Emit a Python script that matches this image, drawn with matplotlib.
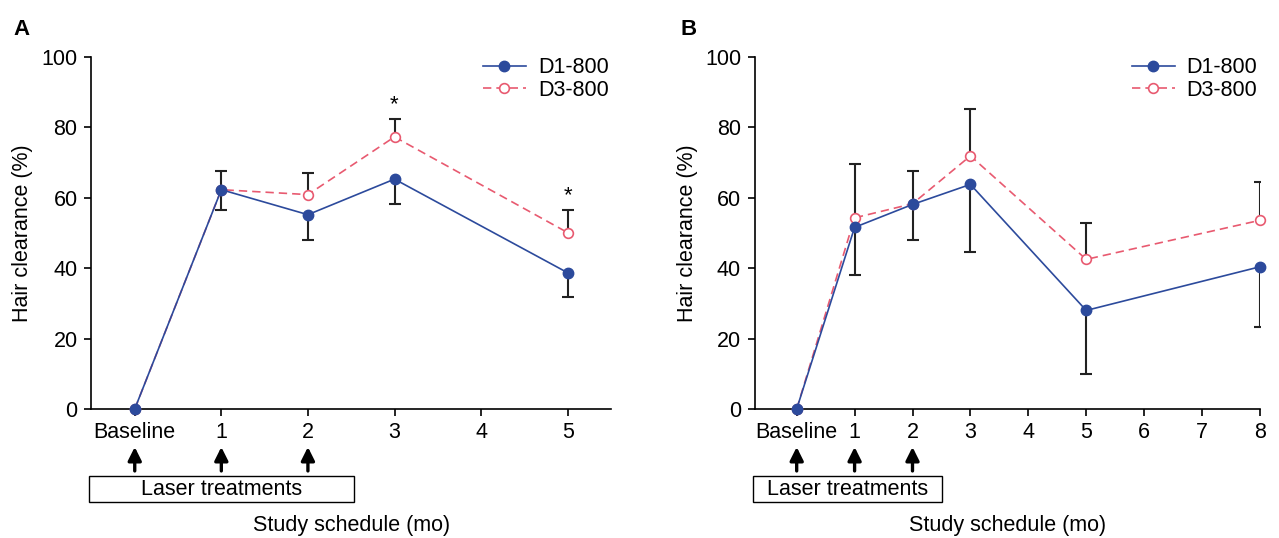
import matplotlib.pyplot as plt
from matplotlib.patches import Rectangle
import numpy as np

plt.rcParams['font.family'] = ['Liberation Sans', 'DejaVu Sans']
plt.rcParams['font.size'] = 15.5

# Panel A
a_x = [0, 1, 2, 3, 5]
a_ticks = [0, 1, 2, 3, 4, 5]
a_ticklabels = ['Baseline', '1', '2', '3', '4', '5']
a_d1 = [0, 62.3, 55.2, 65.3, 38.7]
a_d1_err = [0, 5.7, 7.2, 7.0, 6.8]     # drawn downward
a_d3 = [0, 62.3, 60.9, 77.3, 50.1]
a_d3_err = [0, 5.2, 6.2, 5.2, 6.5]     # drawn upward
a_star_x = [3, 5]
a_star_y = [86.5, 60.5]

# Panel B
b_x = [0, 1, 2, 3, 5, 8]
b_ticks = [0, 1, 2, 3, 4, 5, 6, 7, 8]
b_ticklabels = ['Baseline', '1', '2', '3', '4', '5', '6', '7', '8']
b_d1 = [0, 51.6, 58.1, 63.8, 28.0, 40.4]
b_d1_err = [0, 13.6, 10.1, 19.2, 18.2, 17.0]
b_d3 = [0, 54.3, 58.3, 71.9, 42.5, 53.6]
b_d3_err = [0, 15.2, 9.2, 13.3, 10.4, 10.8]

treat_x = [0, 1, 2]

blue = '#2c4a9c'
red = '#e85a70'

fig = plt.figure(figsize=(12.79, 5.38), dpi=100)
axA = fig.add_axes([0.0715, 0.2398, 0.4062, 0.6543])
axB = fig.add_axes([0.5903, 0.2398, 0.3948, 0.6543])


def draw_errs(ax, x, y, err, sign):
    x = np.array(x)
    y = np.array(y)
    err = np.array(err)
    m = err > 0
    ends = y[m] + sign * err[m]
    ax.vlines(x[m], y[m], ends, color='#222222', lw=1.5, zorder=2)
    ax.plot(x[m], ends, linestyle='none', marker='_', markersize=9,
            markeredgewidth=1.5, color='#222222', zorder=2)


def panel(ax, x, d1, d1e, d3, d3e, ticks, ticklabels, xlim, box, letter):
    draw_errs(ax, x, d1, d1e, -1)
    draw_errs(ax, x, d3, d3e, +1)
    ax.plot(x, d3, color=red, lw=1.2, ls=(0, (5, 3)), marker='o', ms=7,
            mfc='white', mec=red, mew=1.2, label='D3-800', zorder=3, clip_on=False)
    ax.plot(x, d1, color=blue, lw=1.2, marker='o', ms=7.5, mfc=blue, mec=blue,
            label='D1-800', zorder=4, clip_on=False)
    ax.set_xlim(*xlim)
    ax.set_ylim(0, 100)
    ax.set_yticks([0, 20, 40, 60, 80, 100])
    ax.set_xticks(ticks)
    ax.set_xticklabels(ticklabels)
    for s in ['top', 'right']:
        ax.spines[s].set_visible(False)
    for s in ['left', 'bottom']:
        ax.spines[s].set_linewidth(1.2)
    ax.tick_params(direction='out', length=5, width=1.2)
    ax.tick_params(axis='x', pad=4.5)
    ax.tick_params(axis='y', pad=5)
    ax.set_ylabel('Hair clearance (%)')
    ax.yaxis.set_label_coords(-0.112, 0.5)
    ax.set_xlabel('Study schedule (mo)')
    ax.xaxis.set_label_coords(0.5, -0.3)

    h, l = ax.get_legend_handles_labels()
    ax.legend(h[::-1], l[::-1], loc='upper right', bbox_to_anchor=(1.012, 1.024),
              frameon=False, handlelength=2.0, handletextpad=0.55,
              borderaxespad=0, labelspacing=0.08)

    tr = ax.get_xaxis_transform()
    for t in treat_x:
        ax.annotate('', xy=(t, -0.108), xytext=(t, -0.176), xycoords=tr,
                    textcoords=tr,
                    arrowprops=dict(arrowstyle='-|>', color='black', lw=2.4,
                                    mutation_scale=20, shrinkA=0, shrinkB=0))
    ax.add_patch(Rectangle((box[0], -0.264), box[1] - box[0], 0.074,
                           transform=tr, fill=False, edgecolor='black',
                           lw=1.0, clip_on=False))
    ax.text((box[0] + box[1]) / 2, -0.228, 'Laser treatments', transform=tr,
            ha='center', va='center')
    fig.text(0.0172 if letter == 'A' else 0.5386, 0.946, letter,
             fontsize=16, fontweight='bold', ha='center', va='center')


panel(axA, a_x, a_d1, a_d1_err, a_d3, a_d3_err, a_ticks, a_ticklabels,
      (-0.5, 5.5), (-0.53, 2.53), 'A')
panel(axB, b_x, b_d1, b_d1_err, b_d3, b_d3_err, b_ticks, b_ticklabels,
      (-0.72, 8), (-0.76, 2.51), 'B')

for sx, sy in zip(a_star_x, a_star_y):
    axA.text(sx, sy, '*', ha='center', va='center', fontsize=16)

fig.savefig('out.png', dpi=100)
